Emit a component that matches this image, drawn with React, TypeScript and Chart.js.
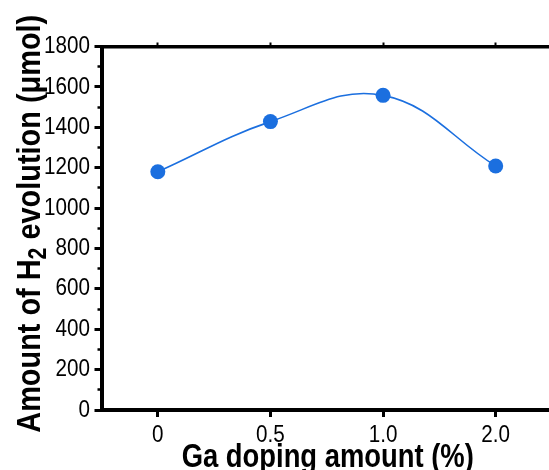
import { useEffect, useRef } from 'react';
import { Chart, registerables } from 'chart.js';

Chart.register(...registerables);

const categories = ['0', '0.5', '1.0', '2.0'];
const h2Evolution = [1180, 1428, 1558, 1208];
const yMin = 0;
const yMax = 1800;
const yMajorStep = 200;
const yMinorStep = 100;
const xTitle = 'Ga doping amount (%)';
const yTitleParts = ['Amount of H', '2', ' evolution (μmol)'];

const FONT = '"Liberation Sans", Arial, Helvetica, sans-serif';
const BLUE = '#1b6fdf';

function drawScaled(ctx: CanvasRenderingContext2D, text: string, x: number, y: number, sx: number) {
  ctx.save();
  ctx.translate(x, y);
  ctx.scale(sx, 1);
  ctx.fillText(text, 0, 0);
  ctx.restore();
}

// Draws tick labels and axis titles in a narrow (condensed) style, at positions taken from the chart scales.
const condensedText = {
  id: 'condensedText',
  afterDraw(chart: any) {
    const { ctx, chartArea, scales } = chart;
    const xs = scales.x;
    const ys = scales.y;
    ctx.save();
    ctx.fillStyle = '#000';

    // y tick labels
    ctx.font = `24px ${FONT}`;
    ctx.textAlign = 'right';
    ctx.textBaseline = 'middle';
    ys.ticks.forEach((t: any, i: number) => {
      if (t.value % yMajorStep !== 0) return;
      drawScaled(ctx, String(t.value), chartArea.left - 11.5, ys.getPixelForTick(i), 0.86);
    });

    // x tick labels
    ctx.textAlign = 'center';
    ctx.textBaseline = 'alphabetic';
    xs.ticks.forEach((_t: any, i: number) => {
      drawScaled(ctx, String(chart.data.labels[i]), xs.getPixelForTick(i), chartArea.bottom + 32, 0.86);
    });

    // x title
    ctx.font = `bold 33px ${FONT}`;
    drawScaled(ctx, xTitle, (chartArea.left + chartArea.right) / 2 + 1, chartArea.bottom + 57, 0.83);

    // y title (rotated, with subscript)
    const sx = 0.85;
    const big = `bold 34px ${FONT}`;
    const small = `bold 25px ${FONT}`;
    ctx.font = big;
    const w0 = ctx.measureText(yTitleParts[0]).width;
    const w2 = ctx.measureText(yTitleParts[2]).width;
    ctx.font = small;
    const w1 = ctx.measureText(yTitleParts[1]).width;
    const total = (w0 + w1 + w2) * sx;
    ctx.save();
    ctx.translate(40, (chartArea.top + chartArea.bottom) / 2 - 4.5);
    ctx.rotate(-Math.PI / 2);
    ctx.scale(sx, 1);
    ctx.textAlign = 'left';
    ctx.textBaseline = 'alphabetic';
    let x = -total / 2 / sx;
    ctx.font = big;
    ctx.fillText(yTitleParts[0], x, 0);
    x += w0;
    ctx.font = small;
    ctx.fillText(yTitleParts[1], x, 6);
    x += w1;
    ctx.font = big;
    ctx.fillText(yTitleParts[2], x, 0);
    ctx.restore();

    ctx.restore();
  },
};

export default function App() {
  const ref = useRef<HTMLCanvasElement>(null);
  useEffect(() => {
    const chart = new Chart(ref.current!, {
      type: 'line',
      data: {
        labels: categories,
        datasets: [
          {
            data: h2Evolution,
            borderColor: BLUE,
            backgroundColor: BLUE,
            pointBackgroundColor: BLUE,
            pointBorderColor: BLUE,
            pointRadius: 7.5,
            pointBorderWidth: 0,
            borderWidth: 1.6,
            tension: 0.4,
            fill: false,
          },
        ],
      },
      options: {
        responsive: false,
        animation: false,
        devicePixelRatio: 1,
        layout: { padding: { left: 0, top: 40, right: 8, bottom: 0 } },
        plugins: { legend: { display: false }, tooltip: { enabled: false } },
        scales: {
          x: {
            type: 'category',
            position: 'bottom',
            offset: true,
            afterFit: (s: any) => {
              s.height = 60;
            },
            border: { display: true, width: 4, color: '#000' },
            grid: { drawOnChartArea: false, drawTicks: true, tickLength: 7, tickWidth: 3, tickColor: '#000', offset: false },
            ticks: { display: false, autoSkip: false },
            title: { display: false },
          },
          x2: {
            type: 'category',
            position: 'top',
            offset: true,
            afterFit: (s: any) => {
              s.height = 6.5;
            },
            border: { display: true, width: 3.5, color: '#000' },
            grid: { drawOnChartArea: false, drawTicks: true, tickLength: 4, tickWidth: 2, tickColor: '#000', offset: false },
            ticks: { display: false },
          },
          y: {
            type: 'linear',
            position: 'left',
            min: yMin,
            max: yMax,
            afterFit: (s: any) => {
              s.width = 101.5;
            },
            border: { display: true, width: 4, color: '#000' },
            grid: {
              drawOnChartArea: false,
              drawTicks: true,
              tickLength: 7,
              tickColor: '#000',
              tickWidth: (ctx: any) => (ctx.tick && ctx.tick.value % yMajorStep === 0 ? 3 : 2.5),
              tickBorderDash: (ctx: any) => (ctx.tick && ctx.tick.value % yMajorStep === 0 ? [] : [0, 3, 2.5, 100]),
            },
            ticks: {
              display: false,
              stepSize: yMinorStep,
              autoSkip: false,
              maxTicksLimit: 40,
            },
            title: { display: false },
          },
        },
      },
      plugins: [condensedText],
    } as any);
    return () => chart.destroy();
  }, []);
  return (
    <div style={{ position: 'fixed', left: 0, top: 0, width: 549, height: 470, overflow: 'hidden', background: '#fff' }}>
      <canvas ref={ref} width={560} height={470} style={{ display: 'block' }} />
    </div>
  );
}
